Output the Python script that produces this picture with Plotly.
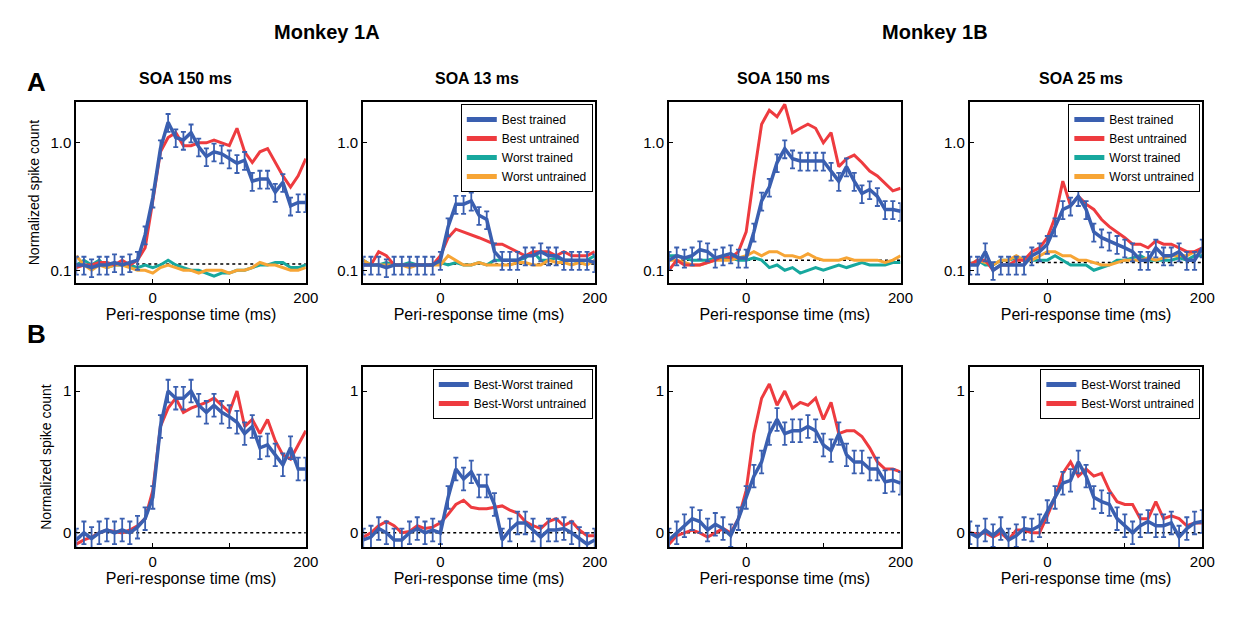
import plotly.graph_objects as go

W, H = 1239, 620
t = list(range(-100, 201, 10))

# Row A (log scale)
a1_blue = [0.11,0.11,0.105,0.11,0.11,0.115,0.11,0.115,0.12,0.19,0.37,0.9,1.45,1.1,1.05,1.2,0.93,0.78,0.85,0.82,0.75,0.69,0.73,0.5,0.52,0.52,0.41,0.49,0.32,0.34,0.34]
a1_red = [0.105,0.11,0.11,0.115,0.115,0.11,0.12,0.11,0.12,0.15,0.35,0.85,1.1,1.2,0.95,0.95,1.0,1.0,1.05,1.0,0.95,1.3,0.85,0.7,0.85,0.9,0.7,0.55,0.45,0.55,0.75]
a1_teal = [0.11,0.12,0.11,0.12,0.105,0.11,0.11,0.11,0.105,0.11,0.105,0.11,0.12,0.11,0.105,0.1,0.1,0.095,0.09,0.095,0.095,0.1,0.1,0.105,0.11,0.11,0.115,0.115,0.105,0.105,0.11]
a1_orange = [0.13,0.11,0.1,0.11,0.105,0.11,0.11,0.105,0.1,0.1,0.095,0.105,0.11,0.105,0.1,0.1,0.095,0.1,0.1,0.1,0.095,0.1,0.1,0.105,0.115,0.11,0.11,0.105,0.1,0.1,0.105]
a1_base = 0.112

a2_blue = [0.11,0.11,0.11,0.105,0.11,0.11,0.11,0.11,0.11,0.11,0.12,0.22,0.33,0.33,0.35,0.27,0.25,0.14,0.12,0.12,0.12,0.13,0.13,0.14,0.13,0.13,0.12,0.12,0.12,0.12,0.115]
a2_red = [0.11,0.11,0.14,0.13,0.11,0.11,0.11,0.11,0.11,0.11,0.13,0.18,0.21,0.2,0.19,0.18,0.17,0.16,0.16,0.15,0.14,0.13,0.14,0.14,0.14,0.13,0.14,0.13,0.13,0.13,0.14]
a2_teal = [0.12,0.11,0.11,0.115,0.11,0.11,0.115,0.11,0.11,0.11,0.115,0.11,0.115,0.11,0.11,0.115,0.11,0.12,0.12,0.12,0.12,0.125,0.14,0.12,0.12,0.125,0.12,0.12,0.115,0.12,0.13]
a2_orange = [0.12,0.11,0.11,0.11,0.11,0.11,0.105,0.11,0.11,0.11,0.11,0.13,0.12,0.11,0.11,0.115,0.11,0.11,0.11,0.11,0.115,0.115,0.11,0.11,0.12,0.115,0.115,0.11,0.115,0.11,0.12]
a2_base = 0.112

a3_blue = [0.12,0.13,0.125,0.13,0.145,0.14,0.125,0.13,0.135,0.125,0.125,0.2,0.35,0.45,0.7,0.9,0.75,0.72,0.72,0.72,0.72,0.6,0.5,0.65,0.5,0.4,0.43,0.38,0.3,0.3,0.29]
a3_red = [0.1,0.12,0.11,0.11,0.11,0.115,0.12,0.13,0.125,0.14,0.2,0.55,1.4,1.8,1.6,2.0,1.2,1.3,1.4,1.3,1.0,1.2,0.65,0.75,0.8,0.7,0.6,0.55,0.48,0.42,0.44]
a3_teal = [0.13,0.13,0.125,0.12,0.12,0.12,0.125,0.125,0.125,0.12,0.12,0.125,0.12,0.105,0.11,0.1,0.105,0.095,0.1,0.105,0.1,0.105,0.11,0.105,0.11,0.115,0.11,0.11,0.11,0.115,0.115]
a3_orange = [0.12,0.12,0.115,0.11,0.11,0.115,0.12,0.12,0.12,0.125,0.13,0.14,0.13,0.14,0.14,0.13,0.13,0.125,0.135,0.125,0.12,0.12,0.12,0.125,0.12,0.12,0.12,0.12,0.115,0.12,0.13]
a3_base = 0.12

a4_blue = [0.11,0.11,0.14,0.1,0.11,0.11,0.11,0.11,0.13,0.14,0.16,0.22,0.3,0.32,0.38,0.3,0.2,0.18,0.17,0.16,0.15,0.14,0.12,0.12,0.15,0.13,0.13,0.14,0.12,0.12,0.15]
a4_red = [0.11,0.12,0.12,0.1,0.11,0.11,0.12,0.12,0.14,0.15,0.18,0.26,0.5,0.32,0.38,0.33,0.3,0.25,0.22,0.2,0.18,0.16,0.16,0.15,0.17,0.16,0.16,0.15,0.14,0.14,0.15]
a4_teal = [0.11,0.12,0.11,0.11,0.12,0.12,0.125,0.12,0.12,0.12,0.12,0.13,0.12,0.11,0.11,0.11,0.1,0.105,0.11,0.12,0.12,0.125,0.13,0.12,0.12,0.12,0.12,0.125,0.12,0.13,0.13]
a4_orange = [0.11,0.12,0.115,0.11,0.12,0.12,0.13,0.12,0.12,0.13,0.14,0.14,0.13,0.13,0.12,0.12,0.115,0.11,0.11,0.115,0.12,0.12,0.12,0.125,0.12,0.125,0.13,0.13,0.13,0.14,0.14]
a4_base = 0.115

# Row B (linear)
b1_blue = [-0.05,0.0,-0.04,0.0,0.02,0.0,0.02,0.0,0.04,0.1,0.25,0.75,1.0,0.95,0.95,1.0,0.9,0.85,0.9,0.85,0.82,0.78,0.7,0.75,0.6,0.62,0.55,0.48,0.6,0.45,0.45]
b1_red = [-0.08,-0.05,-0.03,0.0,0.02,0.01,0.0,0.02,0.05,0.1,0.3,0.75,0.88,0.95,0.85,0.88,0.9,0.92,0.95,0.9,0.85,1.0,0.75,0.8,0.7,0.8,0.65,0.55,0.52,0.62,0.72]
b2_blue = [-0.05,-0.03,0.03,0.0,-0.05,-0.05,0.0,0.03,0.0,0.02,0.0,0.25,0.45,0.38,0.43,0.33,0.33,0.2,-0.05,0.02,0.07,0.07,0.02,-0.03,0.02,0.02,0.03,0.0,-0.04,-0.08,-0.05]
b2_red = [-0.03,0.0,0.05,0.08,0.05,0.0,0.01,0.05,0.03,0.04,0.07,0.13,0.2,0.23,0.18,0.17,0.17,0.18,0.19,0.16,0.14,0.08,0.05,0.03,0.08,0.1,0.05,0.08,0.02,-0.02,-0.02]
b3_blue = [-0.05,0.0,0.05,0.1,0.08,0.02,0.06,0.03,-0.02,0.1,0.25,0.4,0.5,0.7,0.8,0.7,0.72,0.72,0.75,0.72,0.62,0.58,0.7,0.55,0.5,0.5,0.45,0.45,0.36,0.37,0.35]
b3_red = [-0.08,-0.02,0.0,0.02,0.0,-0.03,0.0,0.03,0.0,0.1,0.3,0.7,0.95,1.05,0.9,1.0,0.88,0.92,0.9,0.95,0.8,0.92,0.7,0.72,0.72,0.68,0.6,0.5,0.45,0.45,0.43]
b4_blue = [0.0,-0.03,0.02,-0.02,0.03,-0.05,-0.02,0.03,0.02,0.05,0.15,0.25,0.35,0.37,0.5,0.4,0.25,0.22,0.2,0.1,0.05,0.0,0.05,0.08,0.05,0.05,0.07,-0.03,0.03,0.07,0.08]
b4_red = [0.0,-0.01,0.0,-0.03,0.0,-0.05,0.02,0.02,0.0,0.0,0.12,0.25,0.42,0.5,0.4,0.45,0.4,0.42,0.3,0.22,0.2,0.2,0.1,0.1,0.22,0.1,0.12,0.1,0.05,0.07,0.07]

err_pct_a = 16
err_b = 0.08

BLUE, RED, TEAL, ORANGE = "#3a5fb0", "#ee3b3f", "#17a89e", "#f7a535"
FONT = "Liberation Sans, Arial, sans-serif"

OX, OY = 3, 8  # page offset
colx = [(72, 304), (362, 596), (671, 905), (975, 1210)]
rowy = [(102, 283), (367, 547)]

fig = go.Figure()
layout = dict(width=W, height=H, margin=dict(l=0, r=0, t=0, b=0),
              paper_bgcolor="white", plot_bgcolor="white", showlegend=True,
              font=dict(family=FONT, color="black"))

def px2x(p): return (p - OX) / W
def px2y(p): return 1 - (p - OY) / H

rowA = [(a1_blue, a1_red, a1_teal, a1_orange, a1_base),
        (a2_blue, a2_red, a2_teal, a2_orange, a2_base),
        (a3_blue, a3_red, a3_teal, a3_orange, a3_base),
        (a4_blue, a4_red, a4_teal, a4_orange, a4_base)]
rowB = [(b1_blue, b1_red), (b2_blue, b2_red), (b3_blue, b3_red), (b4_blue, b4_red)]

legend_map = {(0, 1): "legend", (0, 3): "legend2", (1, 1): "legend3", (1, 3): "legend4"}

k = 0
for r in range(2):
    for c in range(4):
        k += 1
        xa = "x" if k == 1 else f"x{k}"
        ya = "y" if k == 1 else f"y{k}"
        xkey = "xaxis" if k == 1 else f"xaxis{k}"
        ykey = "yaxis" if k == 1 else f"yaxis{k}"
        leg = legend_map.get((r, c))
        show = leg is not None
        common = dict(mirror=True, showline=True, linecolor="black", linewidth=2,
                      ticks="inside", ticklen=4, tickcolor="black", showgrid=False, zeroline=False,
                      tickfont=dict(size=15, family=FONT))
        layout[xkey] = dict(domain=[px2x(colx[c][0]), px2x(colx[c][1])], anchor=ya,
                            range=[-100, 200], tickvals=[0, 100, 200], ticktext=["0", "", "200"],
                            title=dict(text="Peri-response time (ms)", font=dict(size=16, family=FONT), standoff=4),
                            **common)
        if r == 0:
            layout[ykey] = dict(domain=[px2y(rowy[r][1]), px2y(rowy[r][0])], anchor=xa,
                                type="log", range=[-1.1, 0.32], tickvals=[0.1, 1.0], ticktext=["0.1", "1.0"], **common)
            blue, red, teal, orange, base = rowA[c]
            names = ["Best trained", "Best untrained", "Worst trained", "Worst untrained"]
            series = [(teal, TEAL, names[2]), (orange, ORANGE, names[3]), (red, RED, names[1])]
            fig.add_trace(go.Scatter(x=t, y=[base] * len(t), mode="lines", line=dict(color="black", width=1.5, dash="dot"),
                                     xaxis=xa, yaxis=ya, showlegend=False, hoverinfo="skip"))
            for yy, col, nm in series:
                fig.add_trace(go.Scatter(x=t, y=yy, mode="lines", line=dict(color=col, width=3), name=nm,
                                         xaxis=xa, yaxis=ya, showlegend=False))
            fig.add_trace(go.Scatter(x=t, y=blue, mode="lines", line=dict(color=BLUE, width=3.5), name=names[0],
                                     error_y=dict(type="percent", value=err_pct_a, color=BLUE, thickness=1.8, width=2.5),
                                     xaxis=xa, yaxis=ya, showlegend=False))
            if show:
                for yy, col, nm in [(blue, BLUE, names[0]), (red, RED, names[1]), (teal, TEAL, names[2]), (orange, ORANGE, names[3])]:
                    fig.add_trace(go.Scatter(x=[None], y=[None], mode="lines", line=dict(color=col, width=4), name=nm,
                                             xaxis=xa, yaxis=ya, legend=leg, showlegend=True))
        else:
            layout[ykey] = dict(domain=[px2y(rowy[r][1]), px2y(rowy[r][0])], anchor=xa,
                                range=[-0.1, 1.17], tickvals=[0, 1], ticktext=["0", "1"], **common)
            blue, red = rowB[c]
            fig.add_trace(go.Scatter(x=t, y=[0] * len(t), mode="lines", line=dict(color="black", width=1.5, dash="dot"),
                                     xaxis=xa, yaxis=ya, showlegend=False, hoverinfo="skip"))
            fig.add_trace(go.Scatter(x=t, y=red, mode="lines", line=dict(color=RED, width=3), name="Best-Worst untrained",
                                     xaxis=xa, yaxis=ya, showlegend=False))
            fig.add_trace(go.Scatter(x=t, y=blue, mode="lines", line=dict(color=BLUE, width=3.5), name="Best-Worst trained",
                                     error_y=dict(type="constant", value=err_b, color=BLUE, thickness=1.8, width=2.5),
                                     xaxis=xa, yaxis=ya, showlegend=False))
            if show:
                for col, nm in [(BLUE, "Best-Worst trained"), (RED, "Best-Worst untrained")]:
                    fig.add_trace(go.Scatter(x=[None], y=[None], mode="lines", line=dict(color=col, width=4), name=nm,
                                             xaxis=xa, yaxis=ya, legend=leg, showlegend=True))
        if show:
            layout[leg] = dict(x=px2x(colx[c][1] - 2), y=px2y(rowy[r][0] + 2), xanchor="right", yanchor="top",
                               bgcolor="white", bordercolor="black", borderwidth=1,
                               font=dict(size=12, family=FONT), tracegroupgap=0, itemwidth=30,
                               itemsizing="constant")

layout["yaxis"]["title"] = dict(text="Normalized spike count", font=dict(size=14, family=FONT), standoff=8)
layout["yaxis5"]["title"] = dict(text="Normalized spike count", font=dict(size=14, family=FONT), standoff=8)

ann = []
def A(text, x, y, size, bold=True):
    ann.append(dict(text=f"<b>{text}</b>" if bold else text, x=px2x(x), y=px2y(y), xref="paper", yref="paper",
                    showarrow=False, font=dict(size=size, family=FONT, color="black"), xanchor="center", yanchor="middle"))
A("Monkey 1A", 325, 32, 20)
A("Monkey 1B", 940, 32, 20)
A("SOA 150 ms", 182, 78, 16)
A("SOA 13 ms", 477, 78, 16)
A("SOA 150 ms", 787, 78, 16)
A("SOA 25 ms", 1087, 78, 16)
A("A", 32, 82, 26)
A("B", 32, 334, 26)
layout["annotations"] = ann

fig.update_layout(**layout)
fig.write_html("out.html")
